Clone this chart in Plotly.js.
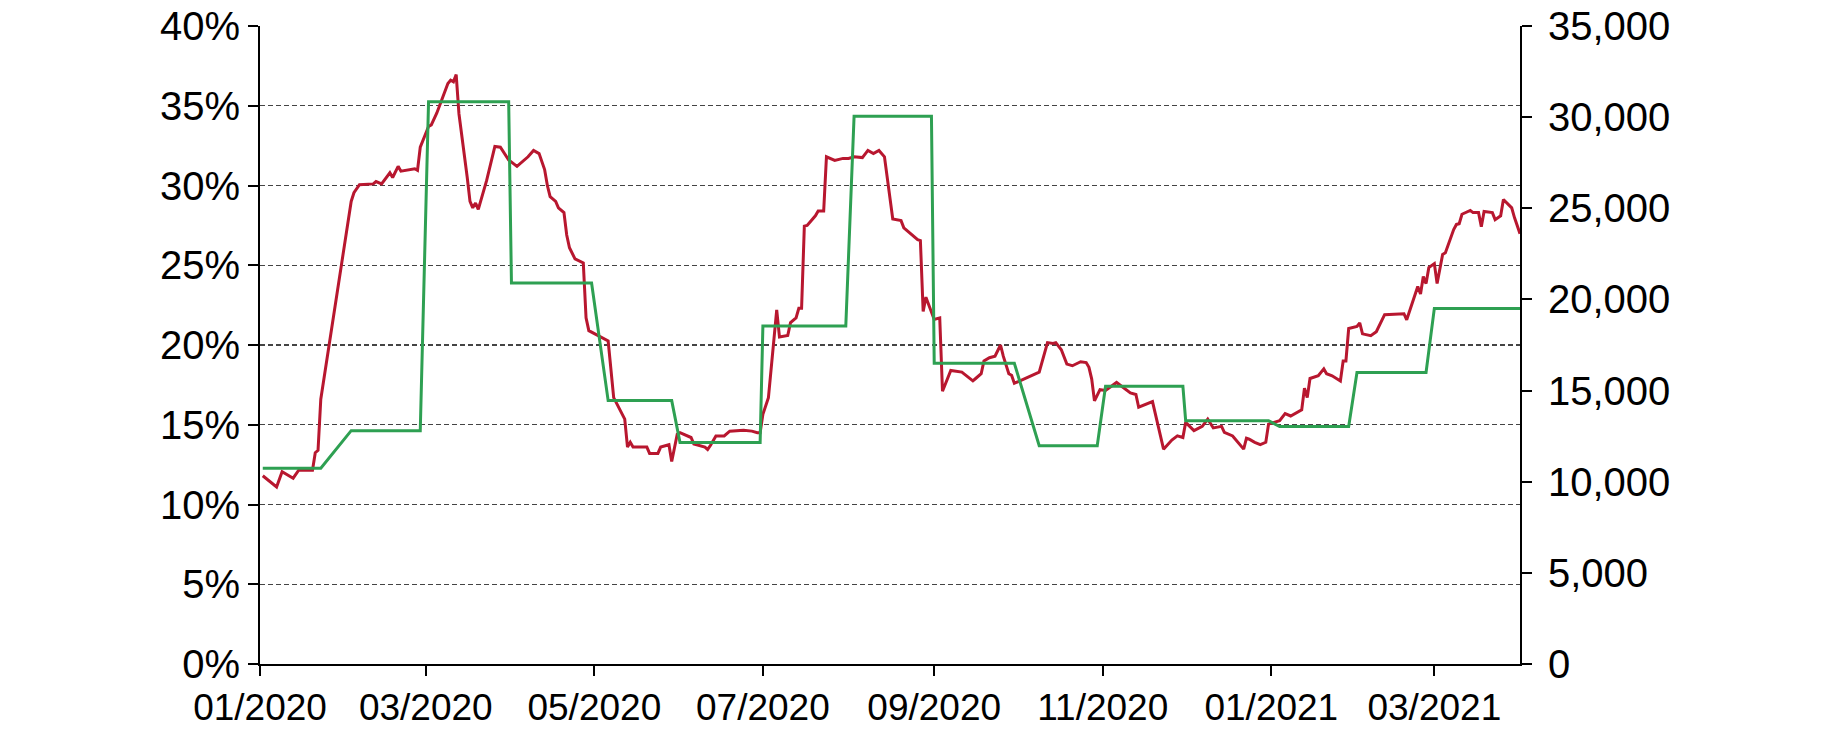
<!DOCTYPE html>
<html>
<head>
<meta charset="utf-8">
<script src="https://cdn.plot.ly/plotly-3.0.1.min.js"></script>
<style>html,body{margin:0;padding:0;background:#fff;}#chart{width:1836px;height:730px;}</style>
</head>
<body>
<div id="chart"></div>
<script>
// Red series (left axis, %)
const redDates = [
"2020-01-02","2020-01-07","2020-01-09","2020-01-13","2020-01-15","2020-01-20","2020-01-21","2020-01-22","2020-01-23",
"2020-02-03","2020-02-04","2020-02-06","2020-02-11","2020-02-12","2020-02-14","2020-02-17","2020-02-18","2020-02-20","2020-02-21","2020-02-26","2020-02-27","2020-02-28",
"2020-03-02","2020-03-03","2020-03-05","2020-03-06","2020-03-09","2020-03-10","2020-03-11","2020-03-12","2020-03-13","2020-03-16","2020-03-17","2020-03-18","2020-03-19","2020-03-20","2020-03-23","2020-03-26","2020-03-28","2020-03-31",
"2020-04-03","2020-04-07","2020-04-09","2020-04-11","2020-04-13","2020-04-14","2020-04-15","2020-04-17","2020-04-18","2020-04-20","2020-04-21","2020-04-22","2020-04-24","2020-04-27","2020-04-28","2020-04-29",
"2020-05-03","2020-05-06","2020-05-08","2020-05-10","2020-05-12","2020-05-13","2020-05-14","2020-05-15","2020-05-20","2020-05-21","2020-05-24","2020-05-25","2020-05-28","2020-05-29","2020-05-31",
"2020-06-01","2020-06-05","2020-06-06","2020-06-10","2020-06-11","2020-06-12","2020-06-14","2020-06-17","2020-06-19","2020-06-22","2020-06-24","2020-06-27","2020-06-29","2020-06-30",
"2020-07-01","2020-07-03","2020-07-06","2020-07-07","2020-07-10","2020-07-11","2020-07-13","2020-07-14","2020-07-15","2020-07-16","2020-07-17","2020-07-20","2020-07-21","2020-07-23","2020-07-24","2020-07-27","2020-07-30",
"2020-08-01","2020-08-03","2020-08-06","2020-08-08","2020-08-10","2020-08-12","2020-08-14","2020-08-16","2020-08-17","2020-08-20","2020-08-21","2020-08-26","2020-08-27","2020-08-28","2020-08-29",
"2020-09-01","2020-09-03","2020-09-04","2020-09-07","2020-09-11","2020-09-15","2020-09-16","2020-09-18","2020-09-19","2020-09-21","2020-09-23","2020-09-25","2020-09-26","2020-09-28","2020-09-29","2020-09-30",
"2020-10-09","2020-10-12","2020-10-14","2020-10-15","2020-10-17","2020-10-19","2020-10-21","2020-10-22","2020-10-24","2020-10-26","2020-10-27","2020-10-28","2020-10-29","2020-10-31",
"2020-11-02","2020-11-06","2020-11-08","2020-11-11","2020-11-13","2020-11-14","2020-11-19","2020-11-21","2020-11-23","2020-11-26","2020-11-28","2020-11-30",
"2020-12-01","2020-12-04","2020-12-07","2020-12-09","2020-12-11","2020-12-14","2020-12-15","2020-12-18","2020-12-20","2020-12-22","2020-12-23","2020-12-24","2020-12-26","2020-12-28","2020-12-30","2020-12-31",
"2021-01-02","2021-01-04","2021-01-06","2021-01-08","2021-01-12","2021-01-13","2021-01-14","2021-01-15","2021-01-18","2021-01-20","2021-01-21","2021-01-23","2021-01-26","2021-01-27","2021-01-28","2021-01-29",
"2021-02-01","2021-02-02","2021-02-03","2021-02-06","2021-02-08","2021-02-11","2021-02-18","2021-02-19","2021-02-23","2021-02-24","2021-02-25","2021-02-26","2021-02-27",
"2021-03-01","2021-03-02","2021-03-04","2021-03-05","2021-03-08","2021-03-09","2021-03-10","2021-03-11","2021-03-14","2021-03-15","2021-03-17","2021-03-18","2021-03-19","2021-03-22","2021-03-23","2021-03-25","2021-03-26","2021-03-29","2021-03-30","2021-04-01"
];
const redValues = [
11.8,11.1,12.05,11.65,12.15,12.15,13.25,13.4,16.6,
29.0,29.55,30.05,30.1,30.25,30.1,30.8,30.5,31.2,30.9,31.05,30.95,32.4,
33.7,33.8,34.55,35.0,36.4,36.6,36.5,36.95,34.5,30.5,29.0,28.6,28.9,28.5,30.3,32.45,32.4,31.6,
31.2,31.8,32.2,32.0,31.0,30.0,29.3,29.0,28.6,28.3,26.9,26.1,25.4,25.15,21.7,20.9,
20.5,20.25,16.7,16.07,15.35,13.6,13.9,13.6,13.6,13.2,13.2,13.6,13.75,12.7,14.4,
14.5,14.2,13.8,13.6,13.45,13.7,14.3,14.3,14.6,14.65,14.65,14.6,14.5,14.5,
15.66,16.7,22.2,20.5,20.6,21.4,21.7,22.3,22.3,27.45,27.5,28.1,28.4,28.4,31.8,31.57,31.7,
31.7,31.8,31.75,32.2,32.0,32.2,31.8,29.0,27.9,27.8,27.35,26.6,26.55,22.1,23.0,
21.6,21.7,17.1,18.4,18.3,17.75,17.9,18.2,19.0,19.2,19.3,20.0,19.3,18.2,18.1,17.6,
18.3,20.15,20.1,20.15,19.7,18.8,18.7,18.8,18.95,18.9,18.6,17.86,16.5,17.2,
17.15,17.65,17.4,17.0,16.9,16.1,16.45,15.04,13.47,14.04,14.3,14.2,
15.15,14.63,14.9,15.35,14.8,14.9,14.52,14.3,13.9,13.47,14.16,14.1,13.9,13.75,13.9,15.04,
15.15,15.25,15.7,15.55,15.93,17.3,16.7,17.9,18.07,18.5,18.2,18.07,17.74,19.0,19.0,21.03,
21.16,21.38,20.7,20.58,20.83,21.9,21.96,21.58,23.67,23.2,24.3,23.85,24.85,
25.1,23.85,25.68,25.78,27.24,27.56,27.6,28.2,28.44,28.3,28.3,27.41,28.37,28.3,27.86,28.1,29.12,28.6,27.99,26.98
];

// Green series (right axis): monthly level, first and last data day of each month
const greenStart = ["2020-01-02","2020-02-03","2020-03-02","2020-04-01","2020-05-06","2020-06-01","2020-07-01","2020-08-03","2020-09-01","2020-10-09","2020-11-02","2020-12-01","2021-01-04","2021-02-01","2021-03-01"];
const greenEnd   = ["2020-01-23","2020-02-28","2020-03-31","2020-04-30","2020-05-29","2020-06-30","2020-07-31","2020-08-31","2020-09-30","2020-10-30","2020-11-30","2020-12-31","2021-01-29","2021-02-26","2021-04-01"];
const greenValues = [10740,12800,30850,20900,14450,12150,18540,30050,16500,11970,15240,13345,13030,15990,19506];

// Tick labels
const xTickVals = ["2020-01-01","2020-03-01","2020-05-01","2020-07-01","2020-09-01","2020-11-01","2021-01-01","2021-03-01"];
const xTickText = ["01/2020","03/2020","05/2020","07/2020","09/2020","11/2020","01/2021","03/2021"];

const gx = [], gy = [];
for (let i = 0; i < greenValues.length; i++) {
  gx.push(greenStart[i], greenEnd[i]);
  gy.push(greenValues[i], greenValues[i]);
}

const FAMILY = "Liberation Sans, Arial, sans-serif";
const YFONT = {family: FAMILY, size: 40, color: "#000"};
const XFONT = {family: FAMILY, size: 37, color: "#000"};

const traces = [
  {x: gx, y: gy, type: "scatter", mode: "lines", yaxis: "y2",
   line: {color: "#2EA052", width: 3}, hoverinfo: "skip"},
  {x: redDates, y: redValues, type: "scatter", mode: "lines", yaxis: "y",
   line: {color: "#B8172F", width: 3}, hoverinfo: "skip"}
];

const layout = {
  width: 1836, height: 730,
  margin: {l: 260, r: 316, t: 26, b: 66, pad: 0},
  paper_bgcolor: "#fff", plot_bgcolor: "#fff",
  showlegend: false,
  font: YFONT,
  xaxis: {
    type: "date", range: ["2020-01-01", "2021-04-01"],
    tickvals: xTickVals, ticktext: xTickText,
    showgrid: false, zeroline: false,
    showline: true, linecolor: "#000", linewidth: 2,
    ticks: "outside", ticklen: 10, tickwidth: 2, tickcolor: "#000",
    tickfont: XFONT
  },
  yaxis: {
    range: [0, 40], dtick: 5, tick0: 0, ticksuffix: "%",
    showgrid: true, gridcolor: "#444", gridwidth: 1.3, griddash: "5px,3px",
    zeroline: false,
    showline: true, linecolor: "#000", linewidth: 2,
    ticks: "outside", ticklen: 10, tickwidth: 2, tickcolor: "#000",
    tickfont: YFONT
  },
  yaxis2: {
    overlaying: "y", side: "right",
    range: [0, 35000], dtick: 5000, tick0: 0, tickformat: ",d",
    showgrid: false, zeroline: false,
    showline: true, linecolor: "#000", linewidth: 2,
    ticks: "outside", ticklen: 10, tickwidth: 2, tickcolor: "#000",
    ticklabelstandoff: 8,
    tickfont: YFONT
  }
};

Plotly.newPlot("chart", traces, layout, {staticPlot: true, displayModeBar: false});
</script>
</body>
</html>
